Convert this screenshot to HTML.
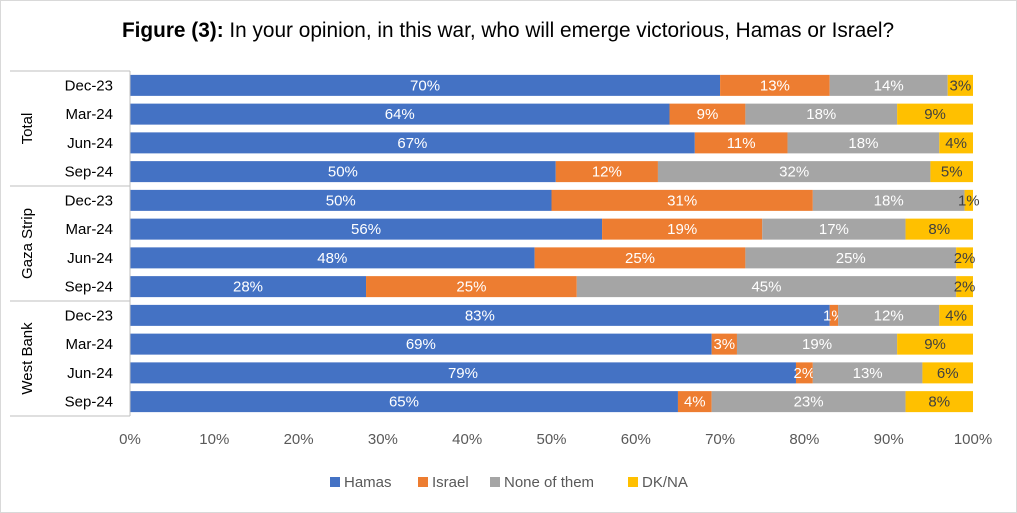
<!DOCTYPE html>
<html><head><meta charset="utf-8"><style>
body{margin:0;background:#fff}
svg{display:block;font-family:"Liberation Sans",Calibri,sans-serif}
</style></head><body>
<svg id="chart" width="1017" height="513">
<rect x="0.5" y="0.5" width="1016" height="512" fill="#fff" stroke="#d9d9d9"/>
<text x="508" y="37" text-anchor="middle" font-size="20.8" fill="#000"><tspan font-weight="bold">Figure (3):</tspan> In your opinion, in this war, who will emerge victorious, Hamas or Israel?</text>
<g id="grid"></g><g id="bars"></g><g id="axes"></g><g id="legend"></g>
</svg>
<script>
const groups=["Total","Gaza Strip","West Bank"];
const periods=["Dec-23","Mar-24","Jun-24","Sep-24"];
const seriesNames=["Hamas","Israel","None of them","DK/NA"];
const hamas=[70,64,67,50,50,56,48,28,83,69,79,65];
const israel=[13,9,11,12,31,19,25,25,1,3,2,4];
const none=[14,18,18,32,18,17,25,45,12,19,13,23];
const dkna=[3,9,4,5,1,8,2,2,4,9,6,8];
const xTicks=[0,10,20,30,40,50,60,70,80,90,100];
const colors=["#4472C4","#ED7D31","#A5A5A5","#FFC000"];
const textColors=["#fff","#fff","#fff","#404040"];
const NS="http://www.w3.org/2000/svg";
const X0=130,X1=973,Y0=71,Y1=416;
const nRows=12,rowH=(Y1-Y0)/nRows,barH=21;
const x=v=>X0+(X1-X0)*v/100;
const yc=i=>Y0+rowH*(i+0.5);
function mk(tag,attrs,parent,txt){const e=document.createElementNS(NS,tag);for(const k in attrs)e.setAttribute(k,attrs[k]);if(txt!==undefined)e.textContent=txt;parent.appendChild(e);return e;}
const grid=document.getElementById('grid'),bars=document.getElementById('bars'),axes=document.getElementById('axes'),legend=document.getElementById('legend');
xTicks.forEach(t=>{
  const l=mk('text',{x:x(t),y:444,'text-anchor':'middle','font-size':15,fill:'#595959'},axes,t+'%');
  
  
});
const series=[hamas,israel,none,dkna];
for(let i=0;i<nRows;i++){
  const tot=series.reduce((s,a)=>s+a[i],0);
  let acc=0;
  series.forEach((arr,si)=>{
    const v=arr[i]*100/tot;
    const r=mk('rect',{x:x(acc),y:yc(i)-barH/2,width:x(acc+v)-x(acc),height:barH,fill:colors[si]},bars);
    
    
    const t=mk('text',{x:x(acc+v/2),y:yc(i)+5,'text-anchor':'middle','font-size':15,fill:textColors[si]},bars,arr[i]+'%');
    
    
    acc+=v;
  });
  const c=mk('text',{x:113,y:yc(i)+5,'text-anchor':'end','font-size':15,fill:'#000'},axes,periods[i%4]);
  
  
}
const ax=mk('line',{x1:X0,y1:Y0,x2:X0,y2:Y1,stroke:'#bfbfbf'},axes);


for(let g=0;g<=3;g++){
  const yy=Y0+g*rowH*4;
  const ln=mk('line',{x1:10,y1:yy,x2:X0,y2:yy,stroke:'#bfbfbf'},axes);
  
  
}
groups.forEach((g,gi)=>{
  const cy=Y0+rowH*(gi*4+2);
  const t=mk('text',{x:0,y:0,transform:`translate(32,${cy}) rotate(-90)`,'text-anchor':'middle','font-size':15,fill:'#000'},axes,g);
  
  
});
const lx=[330,418,490,628];
seriesNames.forEach((n,i)=>{
  const r=mk('rect',{x:lx[i],y:477,width:10,height:10,fill:colors[i]},legend);
  
  
  const t=mk('text',{x:lx[i]+14,y:487,'font-size':15,fill:'#595959'},legend,n);
  
  
});
</script>
</body></html>
